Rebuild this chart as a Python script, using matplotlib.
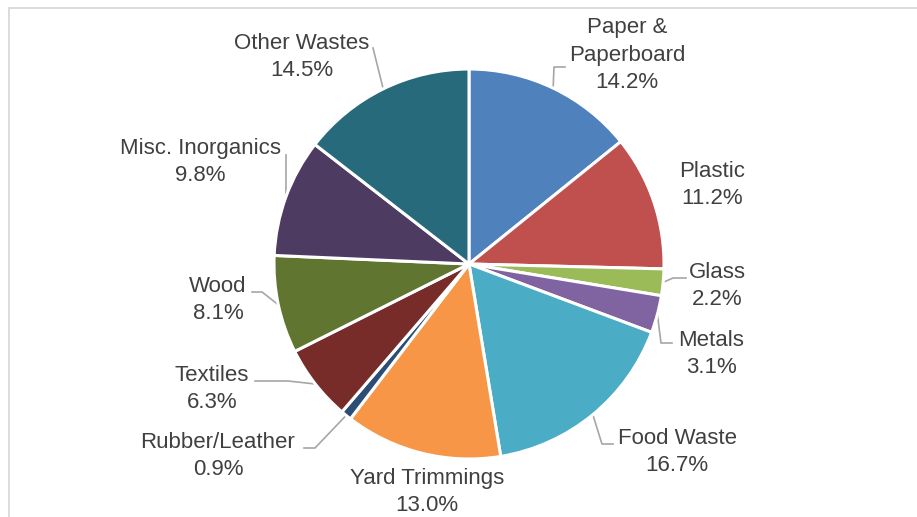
import matplotlib.pyplot as plt
import numpy as np

# Composição dos resíduos sólidos urbanos (%)
categorias = ['Paper &\nPaperboard', 'Plastic', 'Glass', 'Metals', 'Food Waste',
              'Yard Trimmings', 'Rubber/Leather', 'Textiles', 'Wood',
              'Misc. Inorganics', 'Other Wastes']
valores = [14.2, 11.2, 2.2, 3.1, 16.7, 13.0, 0.9, 6.3, 8.1, 9.8, 14.5]
cores = ['#4F81BD', '#C0504D', '#9BBB59', '#8064A2', '#4BACC6', '#F79646',
         '#2C4D75', '#772C2A', '#5F7530', '#4D3B62', '#276A7C']

W, H = 917, 517
cx, cy, raio = 469, 264, 195

# posição dos rótulos (pixels, origem no canto superior esquerdo)
pos_rotulos = [(627, 55), (712, 185), (717, 286), (711, 354), (677, 452),
               (427, 492), (218, 456), (212, 389), (218, 300), (200, 162), (302, 57)]
# pontos intermediários das linhas de chamada (None = sem linha)
chamadas = [[(554, 67), (565, 67)], None, [(673, 278), (686, 278)],
            [(661, 343), (672, 343)], [(602, 444), (613, 444)], None,
            [(315, 448), (304, 448)], [(288, 381), (255, 381)],
            [(262, 292), (252, 292)], [(286, 155)], [(373, 48)]]

plt.rcParams['font.family'] = ['Liberation Sans', 'DejaVu Sans']

fig = plt.figure(figsize=(W / 100, H / 100), dpi=100)
ax = fig.add_axes([0, 0, 1, 1])


def py(y):
    return H - y


# borda da área do gráfico
ax.plot([9, 9, W + 5], [-5, py(8), py(8)], color='#D9D9D9', lw=1.3, solid_joinstyle='miter')

wedges, _ = ax.pie(valores, colors=cores, startangle=90, counterclock=False,
                   center=(cx, py(cy)), radius=raio, frame=True,
                   wedgeprops={'edgecolor': 'white', 'linewidth': 2.2})
ax.set_xlim(0, W)
ax.set_ylim(0, H)
ax.axis('off')

for wedge, nome, valor, (tx, ty), pts in zip(wedges, categorias, valores, pos_rotulos, chamadas):
    ax.text(tx, py(ty), f'{nome}\n{valor:.1f}%', ha='center', va='center',
            multialignment='center', fontsize=16, color='#404040', linespacing=1.4)
    if pts is None:
        continue
    ang = np.deg2rad((wedge.theta1 + wedge.theta2) / 2)
    x0 = cx + raio * np.cos(ang)
    y0 = py(cy) + raio * np.sin(ang)
    xs = [x0] + [p[0] for p in pts]
    ys = [y0] + [py(p[1]) for p in pts]
    ax.plot(xs, ys, color='#A6A6A6', lw=1.2, zorder=0.5)

fig.savefig('out.png', dpi=100)
